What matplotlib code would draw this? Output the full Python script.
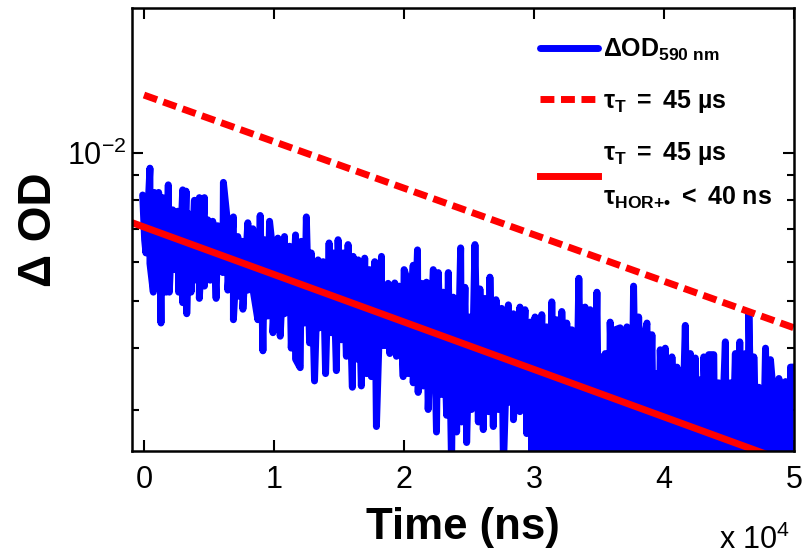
import numpy as np
import matplotlib
matplotlib.use('Agg')
import matplotlib.pyplot as plt
import matplotlib.ticker as mtick

plt.rcParams['font.family'] = 'Liberation Sans'
plt.rcParams['mathtext.fontset'] = 'custom'
plt.rcParams['mathtext.rm'] = 'Liberation Sans'
plt.rcParams['mathtext.it'] = 'Liberation Sans:italic'
plt.rcParams['mathtext.bf'] = 'Liberation Sans:bold'
plt.rcParams['axes.unicode_minus'] = False

#%% data (time in microseconds, Delta OD in units of 1e-3)
# local maxima of the transient
peak_t = [-0.1, 0.46, 0.79, 1.13, 1.44, 1.87, 2.21, 2.60, 2.98, 3.24,
          3.49, 3.88, 4.26, 4.65, 4.91, 5.29, 5.68, 6.11, 6.45, 6.88,
          7.22, 7.55, 7.99, 8.38, 8.94, 9.27, 9.66, 9.92, 10.30, 10.81,
          11.20, 11.66, 12.10, 12.49, 12.87, 13.39, 13.78, 14.24, 14.55, 14.93,
          15.32, 15.70, 16.09, 16.48,
          16.98, 17.36, 17.75, 18.27, 18.78, 19.29, 19.63, 20.01, 20.32, 20.71,
          21.04, 21.35, 21.73, 22.25, 22.64, 23.02, 23.41, 23.79, 24.36, 24.69,
          25.07, 25.46, 25.84, 26.23, 26.61, 27.08, 27.51, 28.03, 28.42, 28.92,
          29.31, 29.70, 30.08, 30.60, 30.98, 31.37, 31.75, 32.14, 32.52, 32.91,
          33.45,
          33.93, 34.32, 34.45, 34.84, 35.14, 35.48, 35.86, 36.25, 36.63, 37.15,
          37.66, 38.05, 38.43, 38.69, 39.07, 39.33, 39.71, 40.10, 40.61, 41.00,
          41.64, 42.03, 42.41, 42.67, 43.06, 43.44, 43.83, 44.21, 44.72, 45.11,
          45.49, 45.83, 46.26, 46.53, 46.91, 47.30, 47.42, 47.81, 48.19, 48.45,
          48.84, 49.35, 49.73, 50.00]
peak_od = [8.2, 9.3, 8.3, 8.3, 8.1, 8.6, 7.65, 7.6, 8.4, 8.35,
           7.5, 8.0, 8.1, 8.1, 7.3, 7.25, 7.1, 8.7, 7.1, 7.4,
           6.75, 6.6, 7.2, 7.0, 7.45, 6.65, 7.25, 6.25, 6.7, 6.75,
           6.45, 6.8, 6.6, 7.4, 6.25, 6.05, 6.0, 6.55, 6.25, 6.65,
           6.25, 6.5, 6.15, 6.05,
           6.1, 5.78, 6.0, 6.15, 5.42, 5.43, 5.35, 5.78, 5.45, 5.9,
           6.34, 5.42, 5.45, 5.78, 5.7, 5.2, 5.7, 5.08, 6.4, 5.32,
           4.63, 6.5, 5.28, 5.05, 5.58, 5.02, 4.82, 4.9, 4.7, 4.85,
           4.79, 4.52, 4.63, 4.68, 4.42, 4.97, 4.57, 4.75, 4.5, 4.36,
           5.55,
           4.85, 4.79, 4.23, 5.2, 3.84, 3.9, 4.52, 4.36, 4.4, 4.42,
           5.35, 4.63, 4.16, 4.5, 4.26, 3.55, 3.97, 4.0, 3.84, 3.66,
           4.45, 3.9, 3.82, 3.45, 3.84, 3.88, 3.88, 3.4, 4.12, 3.4,
           3.9, 4.12, 3.9, 4.69, 3.84, 3.33, 2.9, 4.0, 3.79, 3.14,
           3.47, 3.42, 3.66, 3.66]

# local minima of the transient
dip_t = [0.05, 0.15, 0.46, 0.72, 1.06, 1.31, 1.70, 1.95, 2.34, 2.67,
         2.98, 3.29, 3.62, 3.88, 4.26, 4.65, 5.09, 5.55, 6.07, 6.45,
         6.88, 7.22, 7.61, 7.99, 8.42, 8.76, 9.15, 9.53, 9.92, 10.48,
         10.81, 11.33, 11.66, 12.02, 12.35, 12.74, 13.12, 13.51, 13.97, 14.41,
         14.80, 15.18, 15.57, 16.03, 16.34,
         16.72, 17.11, 17.49, 17.88, 18.27, 18.65, 18.91, 19.42, 19.94, 20.32,
         20.71, 21.09, 21.48, 21.86, 22.50, 22.89, 23.28, 23.66, 24.05, 24.43,
         24.82, 25.20, 25.72, 26.10, 26.49, 26.87, 27.26, 27.65, 28.03, 28.42,
         28.92, 29.44, 29.83,
         30.3, 30.8, 31.2, 31.6, 32.0, 32.4, 32.8, 33.2, 33.7, 34.1,
         34.6, 35.0, 35.4, 35.8, 36.2, 36.7, 37.1, 37.5, 37.9, 38.3,
         38.8, 39.2, 39.6, 40.0, 40.4, 40.9, 41.3, 41.8, 42.2, 42.6,
         43.0, 43.4, 43.9, 44.3, 44.8, 45.2, 45.6, 46.0, 46.4, 46.8,
         47.2, 47.6, 48.0, 48.5, 48.9, 49.3, 49.7]
dip_od = [6.65, 6.25, 5.95, 5.2, 5.78, 4.5, 5.2, 5.2, 5.78, 5.2,
          4.95, 4.7, 5.2, 5.5, 5.05, 5.35, 5.5, 5.05, 5.7, 5.25,
          4.57, 5.1, 4.8, 5.25, 5.2, 4.57, 3.95, 4.65, 4.3, 4.23,
          4.7, 4.0, 3.8, 3.65, 4.5, 4.1, 3.43, 4.4, 3.55, 4.3,
          3.6, 4.16, 3.85, 3.33, 3.8,
          3.35, 3.55, 3.5, 2.77, 4.05, 4.05, 3.9, 3.85, 3.5, 3.55,
          3.4, 3.25, 3.35, 3.0, 2.7, 3.22, 2.92, 2.3, 2.7, 2.83,
          2.57, 3.0, 2.83, 2.73, 2.97, 2.77, 3.0, 2.3, 3.1, 2.86,
          2.97, 2.68, 2.3,
          2.3, 2.2, 2.35, 2.1, 2.25, 2.3, 2.0, 2.2, 2.35, 2.15,
          2.25, 2.1, 2.3, 2.2, 2.05, 2.3, 2.2, 2.35, 2.1, 2.2,
          2.0, 2.25, 2.15, 2.3, 2.1, 2.2, 2.05, 2.25, 2.1, 2.2,
          2.0, 2.15, 2.25, 2.05, 2.15, 2.0, 2.2, 2.1, 1.95, 2.15,
          2.05, 2.1, 1.95, 2.05, 2.0, 1.9, 2.0]

# mono-exponential fits (tau = 45 us), end points
fit_dash_t = [0.0, 50.0]
fit_dash_od = [13.1, 4.4]
fit_solid_t = [-0.9, 50.0]
fit_solid_od = [7.2, 2.32]

#%% merge maxima / minima into one trace
trace_t = np.concatenate([peak_t, dip_t])
trace_od = np.concatenate([peak_od, dip_od])
order = np.argsort(trace_t, kind='stable')
trace_t = trace_t[order] * 1e3      # ns
trace_od = trace_od[order] * 1e-3

#%% figure
fig = plt.figure(figsize=(8.06, 5.58), dpi=100)
ax = fig.add_axes([132/806, 1 - 451/558, (794 - 132)/806, (451 - 8)/558])

ax.plot(trace_t, trace_od, color='#0000ff', lw=5,
        solid_capstyle='round', solid_joinstyle='round',
        label=r'$\mathbf{ΔOD_{590\ nm}}$')
ax.plot(np.array(fit_dash_t) * 1e3, np.array(fit_dash_od) * 1e-3,
        color='#ff0000', lw=5, dashes=(2.0, 0.95),
        label=r'$\mathbf{τ_T\ =\ 45\ µs}$')
ax.plot(np.array(fit_solid_t) * 1e3, np.array(fit_solid_od) * 1e-3,
        color='#ff0000', lw=5,
        label='$\\mathbf{τ_T\\ =\\ 45\\ µs}$\n$\\mathbf{τ_{HOR{+}•}\\ <\\ 40\\ ns}$')

ax.set_yscale('log')
ax.set_xlim(-920, 50000)
ax.set_ylim(2.47e-3, 1.97e-2)

ax.set_xticks(np.arange(0, 50001, 10000))
ax.xaxis.set_major_formatter(mtick.FuncFormatter(lambda v, p: '%g' % (v / 1e4)))
ax.xaxis.set_minor_locator(mtick.NullLocator())
ax.yaxis.set_minor_formatter(mtick.NullFormatter())

ax.tick_params(which='both', direction='in', top=True, right=True,
               width=1.5, labelsize=22)
ax.tick_params(axis='x', pad=10)
ax.tick_params(axis='y', pad=4)
ax.tick_params(which='major', length=8)
ax.tick_params(which='minor', length=5)
for sp in ax.spines.values():
    sp.set_linewidth(1.8)

ax.set_xlabel('Time (ns)', fontsize=31.5, fontweight='bold', labelpad=9)
ax.set_ylabel('Δ OD', fontsize=33, fontweight='bold', labelpad=4)
fig.text(790/806, 2/558, r'x 10$^{4}$', ha='right', va='bottom', fontsize=22)

leg = ax.legend(loc='upper right', bbox_to_anchor=(1.012, 1.003),
                frameon=False, fontsize=18,
                handlelength=2.3, handletextpad=0.2,
                labelspacing=1.0, borderaxespad=0.8)
for txt in leg.get_texts():
    txt.set_linespacing(1.9)

fig.savefig('out.png', dpi=100)
